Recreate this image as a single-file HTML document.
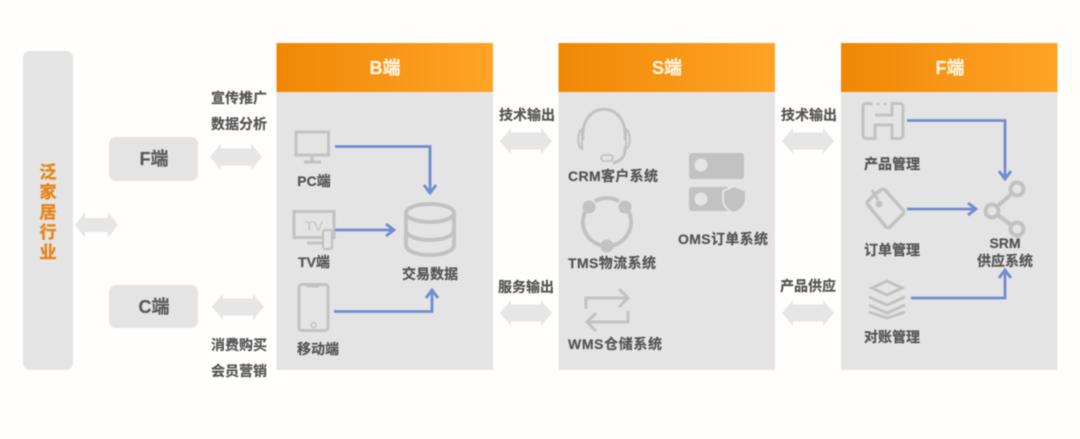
<!DOCTYPE html>
<html lang="zh"><head><meta charset="utf-8"><title>泛家居行业</title>
<style>
html,body{margin:0;padding:0;background:#fffefd}
svg{display:block;filter:blur(.45px)}
text{font-family:"Liberation Sans","Noto Sans CJK SC",sans-serif;font-weight:700;fill:#555;stroke:#555;stroke-width:.2px;font-size:14px;text-anchor:middle}
text.h{fill:#fff4e0;stroke:#fff4e0;font-size:18px}
text.b{font-size:18px;fill:#5c5c5c;stroke:#5c5c5c}
text.o{fill:#e8841a;stroke:#e8841a;stroke-width:.4px;font-size:17px}
text.tv{font-size:14px;font-weight:400;fill:#c4c4c4;stroke:none}
.ar{fill:#e6e6e6}
.p{fill:#e4e4e4}
.ic{fill:none;stroke:#c2c2c2;stroke-width:3}
.f{fill:#c2c2c2}
.bl{fill:none;stroke:#718cd0;stroke-width:2.800}
</style></head><body>
<svg width="1080" height="439" viewBox="0 0 1080 439" xmlns="http://www.w3.org/2000/svg">
<defs>
<linearGradient id="g" x1="0" x2="1" y1="0" y2="0"><stop offset="0" stop-color="#f08805"/><stop offset="1" stop-color="#ffa427"/></linearGradient>
<polygon id="da" points="0,0 11,-13 11,-8.500 41,-8.500 41,-13 52,0 41,13 41,8.500 11,8.500 11,13"/>
</defs>
<rect x="23" y="51" width="50" height="319" rx="7" class="p"/>
<rect x="109" y="137" width="89" height="44" rx="7" class="p"/>
<rect x="109" y="285" width="89" height="43" rx="7" class="p"/>
<text class="o" x="48" y="178">泛</text><text class="o" x="48" y="198">家</text><text class="o" x="48" y="218">居</text><text class="o" x="48" y="238">行</text><text class="o" x="48" y="258">业</text>
<text class="b" x="154" y="165">F端</text><text class="b" x="154" y="313">C端</text>
<polygon class="ar" points="75,225 85,212 85,218 108,218 108,212 118,225 108,238 108,232 85,232 85,238"/>
<use href="#da" class="ar" x="210" y="157"/><use href="#da" class="ar" x="212" y="307"/>
<use href="#da" class="ar" x="500" y="141"/><use href="#da" class="ar" x="500" y="313"/>
<use href="#da" class="ar" x="782" y="141"/><use href="#da" class="ar" x="782" y="313"/>
<text x="239" y="103">宣传推广</text><text x="239" y="129">数据分析</text>
<text x="239" y="350">消费购买</text><text x="239" y="376">会员营销</text>
<text x="527" y="120">技术输出</text><text x="526" y="292">服务输出</text>
<text x="809" y="120">技术输出</text><text x="808" y="291">产品供应</text>

<rect x="276.500" y="92" width="216.500" height="278" class="p"/><rect x="276.500" y="43" width="216.500" height="49" fill="url(#g)"/>
<rect x="558.500" y="92" width="216.500" height="278" class="p"/><rect x="558.500" y="43" width="216.500" height="49" fill="url(#g)"/>
<rect x="841" y="92" width="216.500" height="278" class="p"/><rect x="841" y="43" width="216.500" height="49" fill="url(#g)"/>
<text class="h" x="385" y="74">B端</text><text class="h" x="667" y="74">S端</text><text class="h" x="950" y="74">F端</text>

<!-- B -->
<rect x="296" y="132" width="32.500" height="23" class="ic"/><path class="ic" d="M312 155v7M304 162h17"/>
<rect x="294" y="211.500" width="40" height="26" class="ic"/><text class="tv" x="314" y="231">TV</text>
<path class="ic" d="M307 243h15"/><rect x="323" y="230" width="9" height="19" rx="2" fill="#e4e4e4" stroke="#c2c2c2" stroke-width="2.200"/>
<rect x="299" y="284.500" width="29" height="46" rx="3" class="ic"/><path class="ic" d="M307 286h12"/><circle cx="313.500" cy="325" r="2.500" class="ic" style="stroke-width:1.500"/>
<ellipse cx="430" cy="213" rx="24" ry="9" class="ic" style="stroke-width:4"/>
<path class="ic" style="stroke-width:4" d="M406 213v32c0 6 11 10 24 10s24-4 24-10v-32M406 230c0 6 11 10 24 10s24-4 24-10"/>
<path class="bl" d="M335 146.500H430V192M424 185l6 8 6-8M335 230H393M386 224l8 6-8 6M334 311.500H432V291M426 298l6-8 6 8"/>
<text x="314" y="186">PC端</text><text x="314" y="267">TV端</text><text x="318" y="354">移动端</text><text x="430" y="279">交易数据</text>

<!-- S -->
<path class="ic" style="stroke-width:3" d="M583 140c-4-41 46-41 42 0M625 146c1 9-3 15-12 17"/>
<path class="ic" style="stroke-width:2" d="M582 129c-5 3-5 18 0 20zM626 129c5 3 5 18 0 20z"/><rect x="601" y="155" width="12" height="6" rx="3" class="ic" style="stroke-width:1.800"/>
<path class="ic" style="stroke-width:4" d="M595 201.200A24 24 0 0 1 619 201.200M628.800 211.900A24 24 0 0 1 613.200 245.200M600.800 245.200A24 24 0 0 1 585.200 211.900"/>
<circle cx="589" cy="207" r="6.500" class="f"/><circle cx="625" cy="207" r="6.500" class="f"/><circle cx="607" cy="246" r="6.500" class="f"/>
<path class="ic" d="M586 309v-11H626M619 289l9 9-9 9M628 311v11H588M596 313l-9 9 9 9"/>
<rect x="689" y="153" width="55" height="26" rx="3" class="f"/><circle cx="701" cy="165" r="6.500" fill="#e4e4e4"/>
<path class="f" d="M692 187h36v24h-36a3 3 0 0 1 -3 -3v-18a3 3 0 0 1 3 -3z"/><circle cx="701" cy="199" r="6.500" fill="#e4e4e4"/>
<path class="f" stroke="#e4e4e4" stroke-width="2" d="M723 191l11-5 12 5v8c0 7-6 12-12 14-6-2-11-7-11-14z"/>
<text x="613" y="181" textLength="90">CRM客户系统</text><text x="612" y="268" textLength="88">TMS物流系统</text><text x="615" y="349" textLength="94">WMS仓储系统</text><text x="723" y="244" textLength="90">OMS订单系统</text>

<!-- F -->
<path class="ic" d="M871 103.500h-5a3 3 0 0 0 -3 3v29a3 3 0 0 0 3 3h9v-13.500h17v13.500h8a3 3 0 0 0 3 -3v-29a3 3 0 0 0 -3 -3h-8v11.500h-17"/>
<circle cx="871" cy="104" r="1.500" class="f"/><circle cx="878" cy="104" r="1.500" class="f"/><circle cx="885" cy="104" r="1.500" class="f"/>
<path class="ic" style="stroke-width:3.500" d="M875 194l-7 7a3 3 0 0 0 0 4l18 22a3 3 0 0 0 4 0l13-13a3 3 0 0 0 0 -4l-18-20a3 3 0 0 0-4 0z"/><path class="ic" d="M872 190l6 10"/><circle cx="879" cy="204" r="3.500" class="f"/>
<path class="ic" d="M887 281l15 7-15 7-15-7z"/><path class="ic" d="M869 297l18 8 18-8M869 305l18 8 18-8M869 312l18 6 18-6"/>
<path class="bl" d="M907 120.500H1005V178M999 171l6 8 6-8M907 209H975M968 203l8 6-8 6M911 298H1005V271M999 278l6-8 6 8"/>
<path class="ic" style="stroke-width:4" d="M992 211L1017 189M992 211L1017 229"/>
<circle cx="1017" cy="189" r="6.500" fill="#e4e4e4" stroke="#c2c2c2" stroke-width="4"/><circle cx="992" cy="211" r="6.500" fill="#e4e4e4" stroke="#c2c2c2" stroke-width="4"/><circle cx="1017" cy="229" r="6.500" fill="#e4e4e4" stroke="#c2c2c2" stroke-width="4"/>
<text x="892" y="169">产品管理</text><text x="892" y="255">订单管理</text><text x="892" y="342">对账管理</text>
<text x="1005" y="248">SRM</text><text x="1005" y="266">供应系统</text>
</svg>
</body></html>
